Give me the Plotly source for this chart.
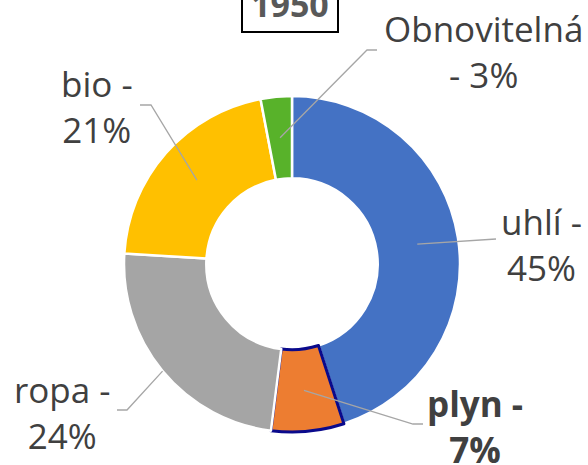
import math
import plotly.graph_objects as go

# ---- data ----
categories = ["uhlí", "plyn", "ropa", "bio", "Obnovitelná"]
values = [45, 7, 24, 21, 3]
label_texts = ["uhlí -<br>45%", "<b>plyn -<br>7%</b>", "ropa -<br>24%", "bio -<br>21%", "Obnovitelná<br>- 3%"]
colors = ["#4472C4", "#ED7D31", "#A5A5A5", "#FFC000", "#58B22A"]
title_text = "1950"

W, H = 588, 465
CX, CY, R = 292, 264, 168
HOLE = 0.51

def px(x):
    return x / W

def py(y):
    return 1 - y / H

fig = go.Figure()
fig.add_trace(go.Pie(
    labels=categories,
    values=values,
    sort=False,
    direction="clockwise",
    rotation=0,
    hole=HOLE,
    textinfo="none",
    hoverinfo="label+percent",
    marker=dict(colors=colors,
                line=dict(color=["white", "#0A0A8C", "white", "white", "white"],
                          width=[2.5, 3, 2.5, 2.5, 2.5])),
    domain=dict(x=[px(CX - R), px(CX + R)], y=[py(CY + R), py(CY - R)]),
    showlegend=False,
))

# label layout (centre of text block, px) and leader-line bends (px)
label_pos = [(541, 244), (475, 426), (62, 412), (97, 106), (483, 52)]
bends = [
    [(496, 239)],
    [(413, 424), (423, 424)],
    [(127, 410), (117, 410)],
    [(151, 105), (140, 105)],
    [(367, 50), (377, 50)],
]
start_r = [R * (1 + HOLE) / 2, R * (1 + HOLE) / 2, R, R * (1 + HOLE) / 2, R * (1 + HOLE) / 2]

total = sum(values)
cum = 0
shapes = []
for i, v in enumerate(values):
    mid = (cum + v / 2) / total * 2 * math.pi
    cum += v
    sx = CX + start_r[i] * math.sin(mid)
    sy = CY - start_r[i] * math.cos(mid)
    pts = [(sx, sy)] + bends[i]
    path = "M " + " L ".join(f"{px(x):.5f},{py(y):.5f}" for x, y in pts)
    shapes.append(dict(type="path", xref="paper", yref="paper", path=path,
                       line=dict(color="#A6A6A6", width=1.3), layer="above"))

# title box
shapes.append(dict(type="rect", xref="paper", yref="paper",
                   x0=px(242), x1=px(338), y0=py(32), y1=py(-5),
                   line=dict(color="black", width=2), fillcolor="white", layer="above"))

annotations = []
for (x, y), t in zip(label_pos, label_texts):
    annotations.append(dict(x=px(x), y=py(y), xref="paper", yref="paper",
                            text=t, showarrow=False, xanchor="center", yanchor="middle",
                            align="center",
                            font=dict(family="Open Sans", size=35, color="#404040")))
annotations.append(dict(x=px(290), y=py(4), xref="paper", yref="paper",
                        text=f"<b>{title_text}</b>", showarrow=False,
                        xanchor="center", yanchor="middle",
                        font=dict(family="Open Sans", size=34, color="#595959")))

fig.update_layout(
    width=W, height=H,
    margin=dict(l=0, r=0, t=0, b=0),
    paper_bgcolor="white",
    plot_bgcolor="white",
    shapes=shapes,
    annotations=annotations,
)

fig.write_html("out.html", config={"displayModeBar": False},
               post_script="document.body.style.margin='0px';")
